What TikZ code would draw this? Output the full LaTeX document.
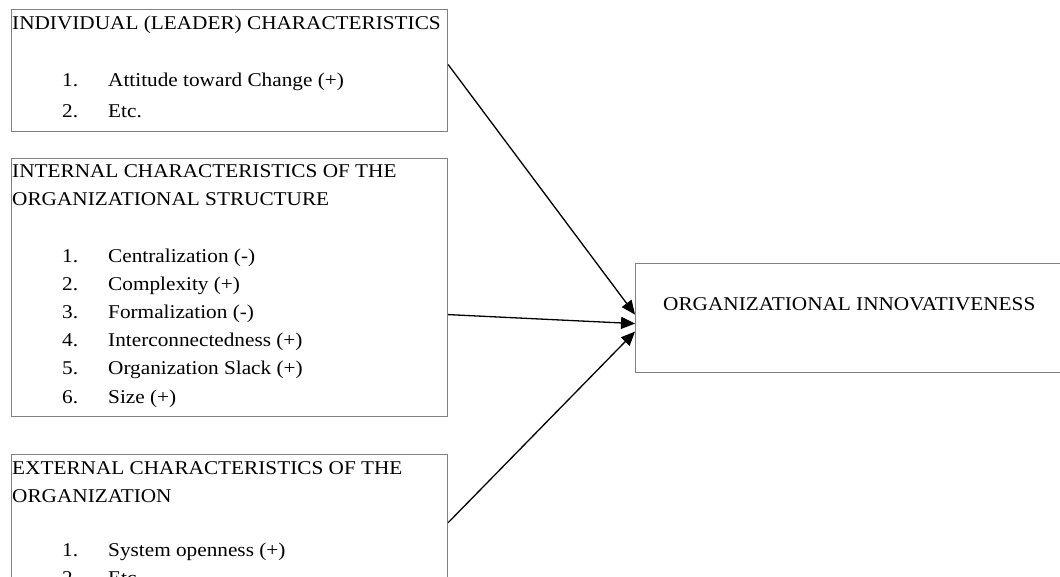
\documentclass[tikz,border=0pt]{standalone}
\usepackage{fontspec}
\setmainfont[FakeStretch=1.09]{Liberation Serif}
\usetikzlibrary{arrows.meta,calc}
\begin{document}
\begin{tikzpicture}[x=1pt,y=-1pt,
  box/.style={draw=black!50,line width=1.2pt,anchor=north west,inner sep=0pt},
  txt/.style={anchor=base west,inner sep=0pt,font=\fontsize{19.5}{22}\selectfont},
  arr/.style={draw=black,line width=1.3pt,-{Triangle[length=14pt,width=12pt]}}]
\useasboundingbox (0,0) rectangle (1060,576);
\clip (0,0) rectangle (1060,576);

% boxes
\node[box,minimum width=436pt,minimum height=122pt] (b1) at (11,9) {};
\node[box,minimum width=436pt,minimum height=258pt] (b2) at (11,158) {};
\node[box,minimum width=436pt,minimum height=166pt] (b3) at (11,454) {};
\node[box,minimum width=455pt,minimum height=109pt] (b4) at (635,263) {};

% individual characteristics
\node[txt] (t1) at (12,29) {INDIVIDUAL (LEADER) CHARACTERISTICS};
\node[txt] (n11) at (62,86) {1.};
\node[txt] (i11) at (108,86) {Attitude toward Change (+)};
\node[txt] (n12) at (62,117) {2.};
\node[txt] (i12) at (108,117) {Etc.};

% internal characteristics
\node[txt] (t2a) at (12,177) {INTERNAL CHARACTERISTICS OF THE};
\node[txt] (t2b) at (12,205) {ORGANIZATIONAL STRUCTURE};
\node[txt] (n21) at (62,262) {1.};
\node[txt] (i21) at (108,262) {Centralization (-)};
\node[txt] (n22) at (62,290.2) {2.};
\node[txt] (i22) at (108,290.2) {Complexity (+)};
\node[txt] (n23) at (62,318.4) {3.};
\node[txt] (i23) at (108,318.4) {Formalization (-)};
\node[txt] (n24) at (62,346.6) {4.};
\node[txt] (i24) at (108,346.6) {Interconnectedness (+)};
\node[txt] (n25) at (62,374.8) {5.};
\node[txt] (i25) at (108,374.8) {Organization Slack (+)};
\node[txt] (n26) at (62,403) {6.};
\node[txt] (i26) at (108,403) {Size (+)};

% external characteristics
\node[txt] (t3a) at (12,474) {EXTERNAL CHARACTERISTICS OF THE};
\node[txt] (t3b) at (12,502) {ORGANIZATION};
\node[txt] (n31) at (62,556) {1.};
\node[txt] (i31) at (108,556) {System openness (+)};
\node[txt] (n32) at (62,584) {2.};
\node[txt] (i32) at (108,584) {Etc.};

% outcome
\node[txt] (t4) at (663,310) {ORGANIZATIONAL INNOVATIVENESS};

% connectors
\draw[arr] ($(b1.east)+(0,-6)$) -- ($(b4.west)+(0,-3.5)$);
\draw[arr] ($(b2.east)+(0,27)$) -- ($(b4.west)+(0,5.5)$);
\draw[arr] ($(b3.east)+(0,-15)$) -- ($(b4.west)+(0,13.5)$);
\end{tikzpicture}
\end{document}
